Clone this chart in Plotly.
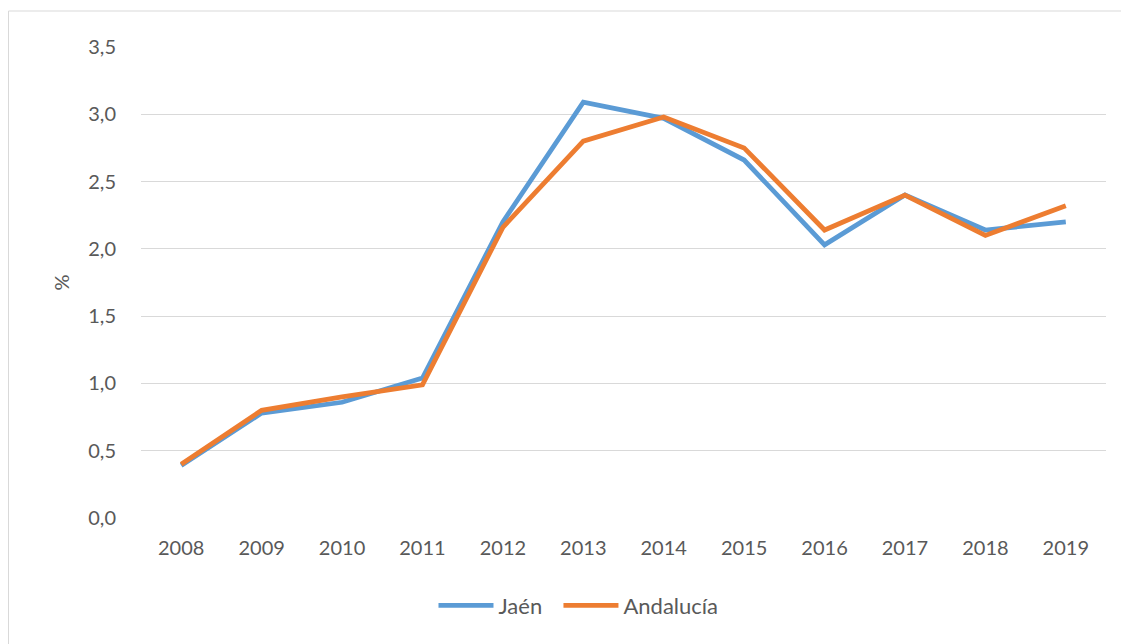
import plotly.graph_objects as go

years = ["2008", "2009", "2010", "2011", "2012", "2013", "2014", "2015", "2016", "2017", "2018", "2019"]
jaen = [0.39, 0.78, 0.86, 1.04, 2.20, 3.09, 2.97, 2.66, 2.03, 2.40, 2.14, 2.20]
andalucia = [0.40, 0.80, 0.90, 0.99, 2.16, 2.80, 2.98, 2.75, 2.14, 2.40, 2.10, 2.32]
y_ticks = [0, 0.5, 1.0, 1.5, 2.0, 2.5, 3.0, 3.5]
y_labels = ["0,0", "0,5", "1,0", "1,5", "2,0", "2,5", "3,0", "3,5"]

FONT = "Lato"
GRAY = "#595959"
FS = 20
FS_LEG = 22

fig = go.Figure()
fig.add_trace(go.Scatter(x=years, y=jaen, mode="lines", name="Jaén",
                         line=dict(color="#5B9BD5", width=4.8), legend="legend"))
fig.add_trace(go.Scatter(x=years, y=andalucia, mode="lines", name="Andalucía",
                         line=dict(color="#ED7D31", width=4.8), legend="legend2"))

leg_common = dict(orientation="h", yanchor="top", y=-0.1415, xanchor="left",
                  font=dict(size=FS_LEG, color=GRAY), itemwidth=55,
                  bgcolor="rgba(0,0,0,0)")

fig.update_layout(
    width=1121, height=636,
    margin=dict(l=133, r=23, t=39, b=126),
    paper_bgcolor="white", plot_bgcolor="white",
    font=dict(family=FONT, size=FS, color=GRAY),
    showlegend=True,
    legend=dict(x=0.3031, **leg_common),
    legend2=dict(x=0.4326, **leg_common),
    xaxis=dict(type="category", range=[-0.5, 11.5], showgrid=False, zeroline=False,
               showline=False, ticks="", ticklabelstandoff=16,
               tickfont=dict(size=FS, color=GRAY)),
    yaxis=dict(range=[0, 3.5], tickvals=y_ticks, ticktext=y_labels,
               showgrid=True, gridcolor="#D9D9D9", gridwidth=1, zeroline=False,
               showline=False, ticks="", ticklabelstandoff=24,
               tickfont=dict(size=FS, color=GRAY),
               title=dict(text="%", standoff=13, font=dict(size=FS, color=GRAY))),
    shapes=[dict(type="rect", xref="paper", yref="paper",
                 x0=-0.1373, x1=1.03, y0=-0.35, y1=1.0764,
                 line=dict(color="#D9D9D9", width=1), fillcolor="rgba(0,0,0,0)",
                 layer="below")],
)

fig.write_html("out.html")
